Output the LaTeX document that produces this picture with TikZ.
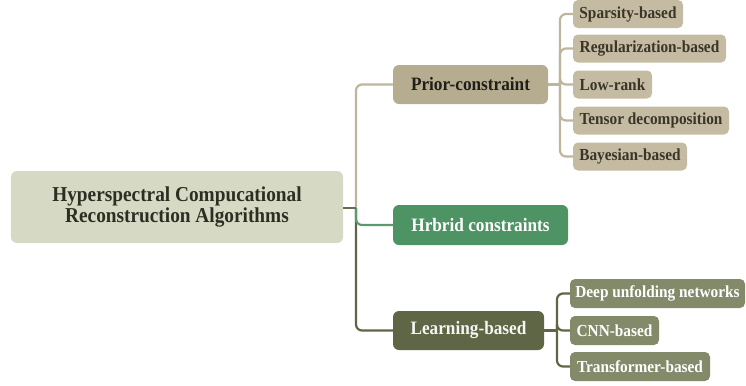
\documentclass[tikz,border=0pt]{standalone}
\usepackage{fontspec}
\setmainfont[FakeStretch=0.91]{Liberation Serif}
\definecolor{rootfill}{HTML}{D6D9C4}
\definecolor{roottext}{HTML}{2B2F22}
\definecolor{priorfill}{HTML}{B6AD90}
\definecolor{priortext}{HTML}{1E1E1A}
\definecolor{pchfill}{HTML}{C4BBA2}
\definecolor{pchtext}{HTML}{3A3528}
\definecolor{hybfill}{HTML}{4E9363}
\definecolor{learnfill}{HTML}{5F6646}
\definecolor{lchfill}{HTML}{838A6A}
\definecolor{beigeline}{HTML}{BDB59C}
\definecolor{greenline}{HTML}{5A9A6C}
\definecolor{darkline}{HTML}{5F6646}
\definecolor{rootline}{HTML}{6B6B55}
\tikzset{
  box/.style={rounded corners=6bp, inner sep=0pt, align=center, font=\bfseries},
  rootbox/.style={box, fill=rootfill, text=roottext, minimum width=332bp, minimum height=72bp, font=\bfseries\fontsize{21.3}{21}\selectfont},
  lvlone/.style={box, minimum height=39bp, font=\bfseries\fontsize{19}{20}\selectfont},
  childbox/.style={box, rounded corners=5bp, minimum height=28bp, font=\bfseries\fontsize{16.9}{18}\selectfont},
  pchild/.style={childbox, fill=pchfill, text=pchtext},
  lchild/.style={childbox, fill=lchfill, text=white},
  conn/.style={line width=2.2bp, rounded corners=6bp},
}
\begin{document}
\begin{tikzpicture}[x=1bp,y=-1bp]
\useasboundingbox (0,0) rectangle (746,385);
% main nodes
\node[rootbox] (root) at (177,207) {Hyperspectral Compucational\\Reconstruction Algorithms};
\node[lvlone, fill=priorfill, text=priortext, minimum width=155bp] (prior) at (470.5,84.5) {Prior-constraint};
\node[lvlone, fill=hybfill, text=white, minimum width=175bp, minimum height=40bp] (hyb) at (480.5,225) {Hrbrid constraints};
\node[lvlone, fill=learnfill, text=white!94!learnfill, minimum width=151bp] (learn) at (468.5,330.5) {Learning-based};
% prior children
\node[pchild, minimum width=110bp] (sp) at (628,14) {Sparsity-based};
\node[pchild, minimum width=153bp] (reg) at (649.5,48.5) {Regularization-based};
\node[pchild, minimum width=79bp] (low) at (612.5,84.5) {Low-rank};
\node[pchild, minimum width=156bp] (ten) at (651,120.5) {Tensor decomposition};
\node[pchild, minimum width=114bp] (bay) at (630,156.5) {Bayesian-based};
% learning children
\node[lchild, minimum width=175bp, minimum height=29bp] (deep) at (657.5,293.5) {Deep unfolding networks};
\node[lchild, minimum width=89bp, minimum height=29bp] (cnn) at (614.5,330.5) {CNN-based};
\node[lchild, minimum width=140bp, minimum height=29bp] (tra) at (640,366.5) {Transformer-based};
% junctions
\coordinate (j) at (356,208);
\coordinate (pj) at (560,84.5);
\coordinate (lj) at (557,330.5);
% connectors
\draw[conn, beigeline] (j) |- (prior.west);
\draw[conn, darkline] (j) |- (learn.west);
\draw[conn, greenline] (j) |- (hyb.west);
\draw[conn, rootline] (root.east |- j) -- (j);
\draw[conn, beigeline] (prior.east) -- (pj);
\foreach \c in {sp,reg,low,ten,bay} \draw[conn, beigeline] (pj) |- (\c.west);
\draw[conn, darkline] (learn.east) -- (lj);
\foreach \c in {deep,cnn,tra} \draw[conn, darkline] (lj) |- (\c.west);
\end{tikzpicture}
\end{document}
